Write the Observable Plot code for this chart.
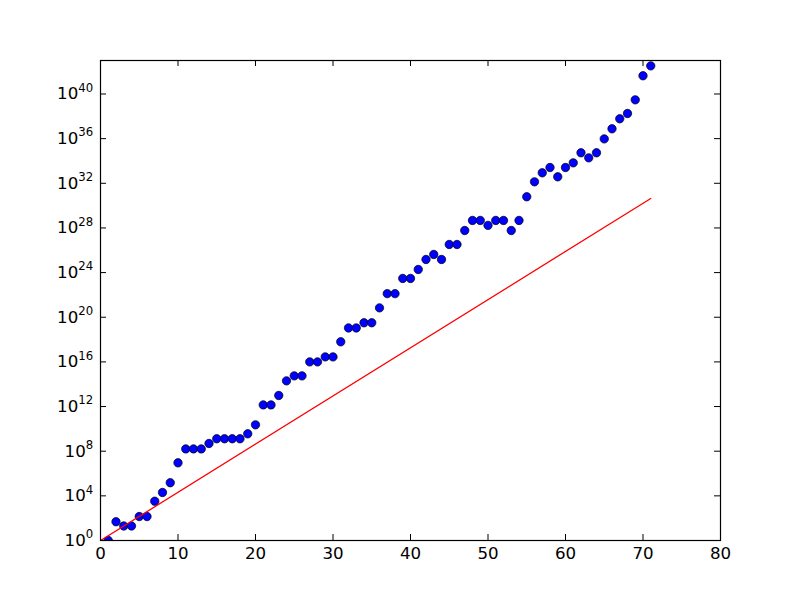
<!DOCTYPE html>
<html><head><meta charset="utf-8">
<script src="https://cdn.jsdelivr.net/npm/d3@7"></script>
<script src="https://cdn.jsdelivr.net/npm/@observablehq/plot@0.6"></script>
<style>body{margin:0;background:#fff;} #chart{width:800px;height:600px;}</style>
</head><body><div id="chart"></div>
<script>
const xs = [1,2,3,4,5,6,7,8,9,10,11,12,13,14,15,16,17,18,19,20,21,22,23,24,25,26,27,28,29,30,31,32,33,34,35,36,37,38,39,40,41,42,43,44,45,46,47,48,49,50,51,52,53,54,55,56,57,58,59,60,61,62,63,64,65,66,67,68,69,70,71];
const ys = [1,48,20,20,1.4e2,1.4e2,3.3e3,2.0e4,1.5e5,9.1e6,
  1.6e8,1.6e8,1.6e8,4.9e8,1.3e9,1.3e9,1.3e9,1.3e9,3.6e9,2.3e10,
  1.4e12,1.4e12,9.8e12,2.0e14,5.6e14,5.6e14,1.0e16,1.0e16,2.8e16,2.8e16,
  6.3e17,1.1e19,1.1e19,3.2e19,3.2e19,6.9e20,1.3e22,1.3e22,3.0e23,3.0e23,
  1.9e24,1.5e25,4.2e25,1.5e25,3.3e26,3.3e26,5.9e27,4.7e28,4.7e28,1.7e28,
  4.7e28,4.7e28,5.9e27,4.7e28,6.2e30,1.35e32,8.7e32,2.6e33,3.8e32,2.6e33,
  6.8e33,5.4e34,1.9e34,5.4e34,9.5e35,7.6e36,6.0e37,1.8e38,3.0e39,4.3e41,3.3e42];
const lineX = [0, 71];
const lineY = [1, 4.4e30];
const xTicks = [0,10,20,30,40,50,60,70,80];
const yTicks = [1e0,1e4,1e8,1e12,1e16,1e20,1e24,1e28,1e32,1e36,1e40];

const pts = xs.map((x,i)=>({x, y: ys[i]}));
const line = lineX.map((x,i)=>({x, y: lineY[i]}));
const FH = 480, FW = 620, TL = 6;

const svg = Plot.plot({
  width: 800, height: 600,
  marginLeft: 100, marginRight: 80, marginTop: 60, marginBottom: 60,
  style: {fontFamily: "DejaVu Sans", fontSize: "16.67px", background: "white", color: "black"},
  x: {domain: [0, 80]},
  y: {type: "log", domain: [1, 1e43]},
  marks: [
    Plot.dot(pts, {x: "x", y: "y", r: 4.2, fill: "#0000ff", stroke: "black", strokeWidth: 0.7, clip: true}),
    Plot.line(line, {x: "x", y: "y", stroke: "red", strokeWidth: 1.3, clip: true}),
    Plot.frame({stroke: "black", strokeWidth: 1.2}),
    Plot.tickX(xTicks, {x: d => d, insetTop: FH - TL, stroke: "black"}),
    Plot.tickX(xTicks, {x: d => d, insetBottom: FH - TL, stroke: "black"}),
    Plot.tickY(yTicks, {y: d => d, insetRight: FW - TL, stroke: "black"}),
    Plot.tickY(yTicks, {y: d => d, insetLeft: FW - TL, stroke: "black"}),
    Plot.axisX(xTicks, {anchor: "bottom", tickSize: 0, tickPadding: 6.5, label: null, fontSize: "16.67px"}),
    Plot.axisY(yTicks, {anchor: "left", tickSize: 0, tickPadding: 7.3, label: null, fontSize: "16.67px",
      tickFormat: d => `10^${Math.round(Math.log10(d))}`})
  ]
});
const ns = "http://www.w3.org/2000/svg";
svg.querySelectorAll('g[aria-label="y-axis tick label"] text').forEach(t => {
  const [base, exp] = t.textContent.split("^");
  t.textContent = "";
  const a = document.createElementNS(ns, "tspan"); a.textContent = base;
  const b = document.createElementNS(ns, "tspan"); b.textContent = exp;
  b.setAttribute("dy", "-7.5"); b.setAttribute("font-size", "11.7px");
  t.append(a, b);
});
document.getElementById("chart").append(svg);
</script>
</body></html>
